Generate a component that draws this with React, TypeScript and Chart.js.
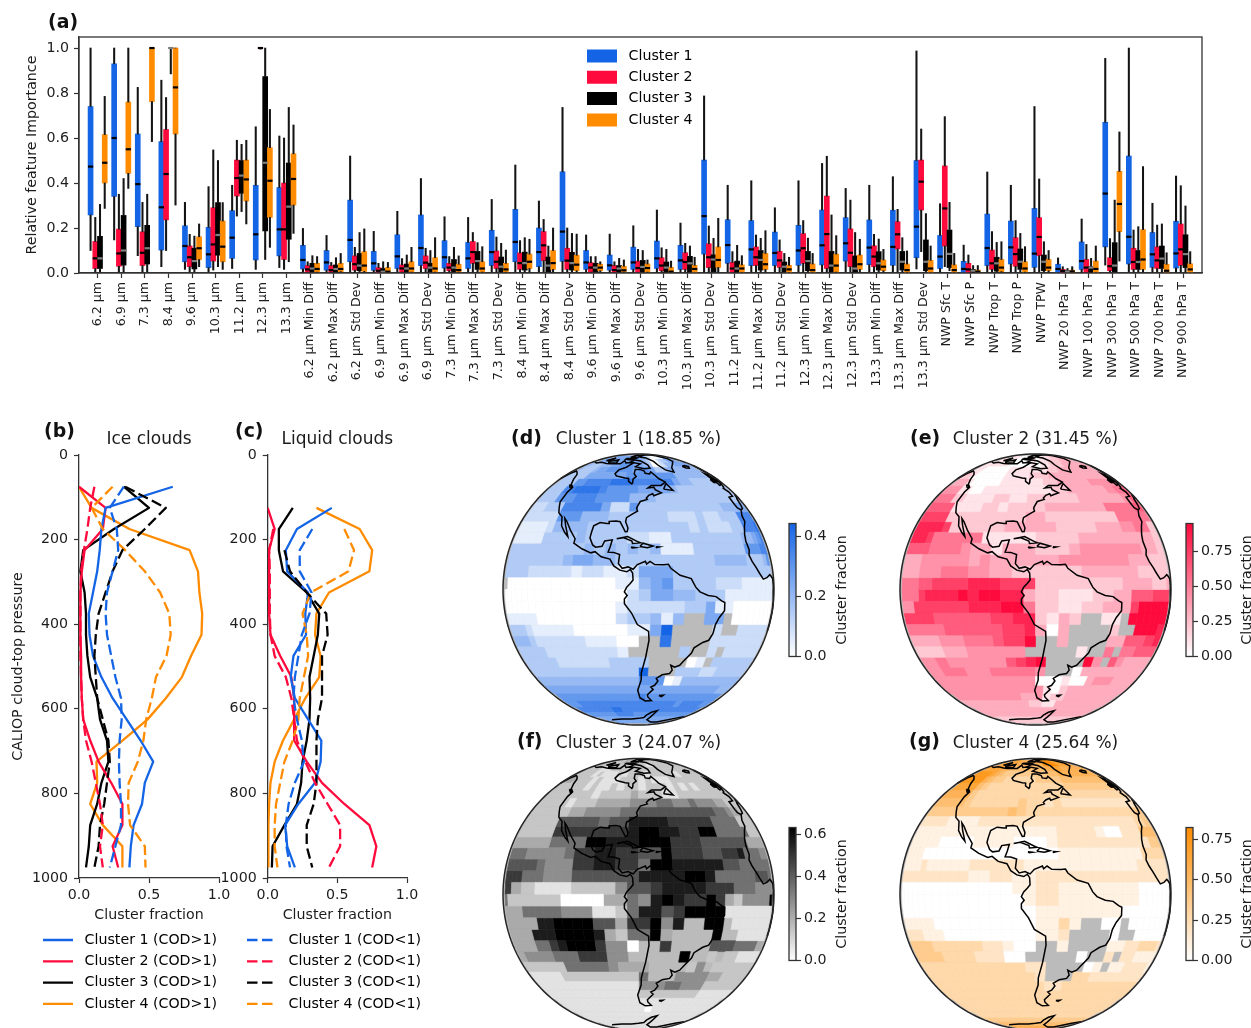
import React, { useEffect, useRef } from "react";
import { Chart, registerables } from "chart.js";

Chart.register(...registerables);
Chart.defaults.font.family = '"DejaVu Sans"';
Chart.defaults.font.size = 14.2;
Chart.defaults.color = "#1c1c1c";

const FEATURES = ["6.2 µm","6.9 µm","7.3 µm","8.4 µm","9.6 µm","10.3 µm","11.2 µm","12.3 µm","13.3 µm",
"6.2 µm Min Diff","6.2 µm Max Diff","6.2 µm Std Dev","6.9 µm Min Diff","6.9 µm Max Diff","6.9 µm Std Dev",
"7.3 µm Min Diff","7.3 µm Max Diff","7.3 µm Std Dev","8.4 µm Min Diff","8.4 µm Max Diff","8.4 µm Std Dev",
"9.6 µm Min Diff","9.6 µm Max Diff","9.6 µm Std Dev","10.3 µm Min Diff","10.3 µm Max Diff","10.3 µm Std Dev",
"11.2 µm Min Diff","11.2 µm Max Diff","11.2 µm Std Dev","12.3 µm Min Diff","12.3 µm Max Diff","12.3 µm Std Dev",
"13.3 µm Min Diff","13.3 µm Max Diff","13.3 µm Std Dev",
"NWP Sfc T","NWP Sfc P","NWP Trop T","NWP Trop P","NWP TPW","NWP 20 hPa T","NWP 100 hPa T","NWP 300 hPa T","NWP 500 hPa T","NWP 700 hPa T","NWP 900 hPa T"];

const CLUSTER_NAMES = ["Cluster 1","Cluster 2","Cluster 3","Cluster 4"];
const COLORS = ["#1464E6","#FF0A3C","#000000","#FF8C00"];

// low whisker, q1, median, q3, high whisker
const STATS_1 = [[.10,.258,.473,.74,1],[.147,.34,.60,.93,1],[.077,.206,.395,.618,.825],[.028,.102,.292,.584,.857],[.016,.05,.12,.21,.314],[.004,.024,.083,.203,.384],[.02,.065,.157,.277,.39],[.016,.058,.172,.39,.65],[.024,.076,.194,.38,.609],[.002,.018,.058,.123,.198],[.002,.013,.047,.10,.167],[.002,.05,.147,.324,.52],[.002,.012,.043,.096,.185],[.002,.02,.074,.17,.274],[.003,.033,.111,.258,.42],[.003,.022,.07,.144,.25],[.003,.02,.065,.136,.247],[.003,.033,.093,.19,.327],[.003,.05,.138,.283,.48],[.003,.028,.093,.20,.32],[.003,.052,.184,.45,.736],[.002,.016,.047,.10,.169],[.002,.013,.034,.08,.173],[.002,.016,.047,.115,.21],[.002,.02,.065,.142,.28],[.002,.016,.056,.123,.222],[.003,.084,.253,.502,.787],[.003,.043,.124,.237,.39],[.003,.033,.105,.233,.41],[.003,.033,.089,.182,.29],[.003,.034,.10,.212,.41],[.003,.036,.123,.28,.487],[.003,.053,.132,.246,.376],[.003,.037,.113,.236,.39],[.003,.034,.116,.279,.428],[.018,.068,.206,.50,.987],[.002,.02,.073,.167,.308],[0,0,.018,.052,.124],[.003,.033,.111,.262,.449],[.003,.04,.114,.231,.39],[.004,.025,.086,.287,.74],[0,.002,.018,.039,.067],[.002,.016,.053,.138,.24],[.035,.116,.353,.67,.954],[.003,.04,.161,.52,1],[.002,.025,.083,.18,.31],[.003,.022,.087,.23,.431]];
const STATS_2 = [[0,.02,.065,.14,.247],[0,.03,.087,.195,.35],[.003,.033,.09,.183,.314],[.10,.236,.44,.638,.78],[.003,.028,.07,.12,.172],[.013,.053,.127,.29,.547],[.253,.342,.422,.502,.59],[.995,1,1,1,1],[.016,.06,.194,.40,.60],[0,.004,.016,.033,.05],[0,.004,.013,.033,.047],[0,.013,.039,.076,.114],[0,.002,.01,.024,.043],[0,.004,.02,.036,.064],[0,.02,.046,.076,.11],[0,.01,.024,.043,.073],[.002,.043,.093,.14,.18],[0,.02,.05,.098,.16],[0,.016,.044,.089,.144],[.003,.055,.123,.184,.238],[.002,.016,.055,.11,.20],[0,.004,.024,.046,.073],[0,.003,.013,.033,.05],[0,.003,.022,.053,.105],[0,.01,.033,.068,.112],[0,.016,.049,.09,.132],[.002,.024,.07,.13,.209],[0,.003,.02,.047,.095],[0,.033,.07,.116,.169],[0,.025,.056,.096,.147],[.002,.043,.11,.175,.233],[.002,.02,.173,.342,.519],[0,.028,.09,.196,.324],[.004,.028,.073,.121,.172],[.002,.107,.172,.228,.283],[.095,.28,.406,.502,.64],[.028,.12,.287,.476,.695],[0,.002,.016,.043,.08],[.002,.016,.043,.102,.184],[.002,.03,.084,.157,.233],[.003,.077,.16,.246,.418],[0,0,.009,.016,.028],[0,.002,.024,.06,.127],[0,.01,.03,.068,.153],[0,.016,.049,.11,.191],[0,.02,.056,.116,.213],[.002,.034,.105,.218,.388]];
const STATS_3 = [[0,.02,.065,.163,.305],[0,.035,.10,.256,.42],[0,.04,.11,.212,.35],[.885,1,1,1,1],[0,.018,.053,.11,.164],[.028,.079,.169,.313,.50],[.273,.354,.433,.50,.572],[.06,.187,.49,.873,1],[.05,.15,.295,.489,.736],[0,.004,.02,.043,.077],[0,.004,.018,.036,.068],[0,.01,.033,.087,.18],[0,.002,.006,.02,.05],[0,.004,.02,.04,.08],[0,.004,.024,.043,.10],[0,.004,.024,.06,.114],[0,.016,.053,.096,.135],[0,.004,.028,.071,.132],[0,.013,.044,.093,.157],[0,.004,.033,.071,.12],[0,.013,.044,.092,.176],[0,.004,.024,.043,.073],[0,.004,.02,.033,.065],[0,.004,.027,.056,.10],[0,.002,.024,.049,.105],[0,.004,.043,.074,.12],[0,.006,.06,.081,.154],[0,.002,.02,.053,.123],[0,.013,.058,.10,.154],[0,.004,.028,.049,.087],[0,.01,.053,.096,.155],[0,.004,.033,.096,.258],[0,.002,.02,.076,.18],[0,.013,.043,.095,.151],[0,.013,.05,.096,.157],[0,.01,.05,.147,.264],[.01,.024,.085,.191,.314],[0,0,.01,.016,.033],[0,.008,.043,.07,.136],[0,.016,.05,.107,.176],[0,.01,.05,.08,.139],[0,0,.006,.01,.02],[0,0,.024,.028,.065],[0,.004,.033,.135,.324],[0,.016,.049,.10,.206],[0,.02,.064,.12,.218],[0,.024,.084,.17,.298]];
const STATS_4 = [[.287,.40,.49,.615,.785],[.376,.443,.55,.76,1],[.584,.762,1,1,1],[.302,.618,.825,1,1],[.028,.06,.11,.161,.218],[.016,.05,.117,.231,.313],[.218,.32,.416,.502,.59],[.114,.247,.41,.557,.727],[.176,.302,.418,.53,.658],[0,.004,.018,.043,.073],[0,.006,.018,.043,.087],[0,.007,.033,.095,.196],[0,.002,.006,.024,.047],[0,.004,.02,.05,.114],[0,.004,.02,.068,.157],[0,.004,.013,.039,.076],[0,.004,.02,.05,.117],[0,.004,.016,.043,.102],[0,.02,.05,.084,.15],[0,.016,.044,.10,.20],[0,.01,.037,.079,.173],[0,.01,.024,.039,.05],[0,.004,.012,.03,.058],[0,.004,.022,.04,.058],[0,0,.006,.025,.053],[0,0,.018,.034,.07],[.003,.025,.058,.116,.243],[0,.003,.02,.036,.077],[0,.016,.039,.087,.188],[0,.002,.016,.034,.07],[0,.002,.013,.04,.087],[0,.004,.033,.084,.166],[0,.016,.039,.08,.15],[0,.01,.028,.058,.105],[0,.002,.013,.04,.098],[0,.002,.02,.056,.12],[0,.002,.013,.036,.087],[0,0,.006,.013,.033],[0,.006,.024,.06,.139],[0,.004,.02,.05,.117],[0,.01,.024,.06,.10],[0,0,.007,.013,.028],[0,.002,.018,.053,.12],[.053,.184,.307,.452,.627],[0,.016,.06,.193,.473],[0,0,.01,.039,.09],[0,0,.016,.041,.095]];
const ALL_STATS = [STATS_1, STATS_2, STATS_3, STATS_4];

const A_Y_TICKS = [0, .2, .4, .6, .8, 1];
const PRESSURE_TICKS = [0, 200, 400, 600, 800, 1000];
const FRACTION_TICKS = [0, .5, 1];
const LEVELS = [75,125,175,225,275,325,375,425,475,525,575,625,675,725,775,825,875,925,975];

const ICE_THICK = [
[.67,.19,.16,.148,.13,.10,.07,.075,.10,.16,.24,.34,.44,.53,.47,.45,.39,.37,.36],
[0,.19,.17,.04,.02,.01,.01,.01,.015,.015,.02,.03,.08,.14,.23,.31,.31,.24,.28],
[.32,.50,.25,.03,.01,.04,.05,.05,.06,.08,.13,.15,.20,.21,.16,.13,.08,.07,.05],
[0,.09,.36,.79,.85,.86,.88,.875,.80,.735,.62,.49,.31,.125,.13,.08,.17,.31,.31]];
const ICE_THIN = [
[.32,.22,.27,.28,.24,.20,.19,.20,.23,.26,.30,.305,.29,.285,.29,.30,.30,.26,.22],
[.11,.08,.06,.035,.015,.01,.01,.01,.01,.015,.02,.03,.05,.09,.12,.15,.17,.15,.17],
[.33,.62,.47,.31,.24,.19,.14,.12,.11,.12,.13,.17,.21,.22,.20,.18,.15,.14,.11],
[.24,.09,.17,.33,.47,.58,.645,.655,.625,.55,.52,.48,.46,.42,.355,.35,.365,.47,.475]];
const LIQ_THICK = [
[null,.46,.21,.13,.14,.29,.27,.275,.185,.165,.195,.29,.385,.38,.34,.22,.125,.14,.195],
[null,0,.05,.01,.01,.01,.01,.02,.09,.17,.19,.19,.19,.28,.39,.55,.73,.78,.75],
[null,.18,.08,.08,.11,.28,.37,.36,.33,.30,.305,.30,.28,.25,.24,.21,.12,.035,.03],
[null,.35,.66,.75,.73,.44,.35,.34,.38,.37,.27,.19,.11,.05,.02,.01,.005,.005,.005]];
const LIQ_THIN = [
[null,null,.32,.23,.23,.315,.30,.245,.22,.195,.185,.21,.245,.26,.195,.15,.13,.135,.16],
[null,null,.04,.01,.015,.015,.015,.02,.05,.13,.17,.19,.21,.27,.34,.43,.52,.52,.44],
[null,null,null,.12,.16,.28,.42,.43,.39,.39,.39,.36,.35,.35,.35,.33,.28,.28,.32],
[null,null,.55,.62,.58,.31,.25,.28,.29,.26,.23,.22,.18,.12,.09,.06,.05,.05,.07]];

// one row per 5 degree latitude band from 90N, one digit per 5 degree longitude from 165W; '-' = no data
const MAP_1 = [
"555555 555555 555555 555555 555555 555555","555555 555555 555555 555533 222555 555555","555555 555555 555555 555220 011555 555555","555555 555555 555565 543002 335555 555555",
"444444 333444 556665 543012 445555 555555","444443 333455 666665 665334 544444 444444","333333 333555 555566 666666 444444 433333","333333 336677 778887 777775 443333 333333",
"333333 377888 876666 555543 333333 333333","333333 366677 766664 443333 333333 333344","222222 333777 775226 333333 333344 455555","222222 222666 444333 333222 322333 777777",
"111111 112444 433333 333332 322233 777888","111111 113333 433332 211333 333334 456777","333333 333333 343434 341113 333336 667777","333333 333334 554433 333333 344443 334666",
"733333 322222 122112 555333 333333 333334","---000 000000 000011 456333 322211 111122","100000 000000 000002 355443 331111 111177","000000 000000 000012 222233 511000 000000",
"111111 110000 000023 3414-- 55-000 000000","333333 211111 000001 159--- -2--22 222222","444444 322222 211100 --8--- -22222 222222","333333 332222 22221- ----3- -2-222 222222",
"333333 333222 222333 3----0 1-3333 333333","333333 333333 333333 9---33 322333 333333","344444 444444 444444 666014 444444 444444","555555 555555 555555 555555 555555 444444",
"666666 666666 666666 766666 666666 666666","666666 677777 777777 777777 677777 666666","777777 777777 788777 777777 777777 777777","666666 666666 677776 666666 666666 666666",
"555555 555555 555555 555555 555555 555555","555555 555555 555555 555555 555555 555555","555555 555555 555555 555555 555555 555555","555555 555555 555555 555555 555555 555555"];
const MAP_2 = [
"111111 111111 111111 111111 111111 111111","111111 111111 111111 111111 111111 222222","111111 111111 000111 111112 222222 222222","111111 111111 000011 011222 233333 333333",
"111111 111111 000001 011222 333333 333333","111111 100000 011111 112233 333333 333333","222222 100000 011112 223333 333333 333333","333333 310000 011111 122333 334444 444444",
"444444 411001 111111 112233 333344 556666","555555 522111 122112 222223 333333 446666","666666 661111 221222 233333 335555 566666","777777 772222 222223 322222 222555 555522",
"888888 887222 222333 332222 333445 552211","888888 755555 511111 222233 333333 332211","666666 655554 331333 222344 444443 332222","333333 444444 343333 334444 444333 222222",
"333333 444555 443322 222233 333322 222222","555555 667777 888777 222222 223333 222333","555555 788889 899883 221112 233666 777777","444447 777777 888995 221122 333799 999998",
"777777 776666 667788 2132-- 11-999 999988","555555 555666 666778 303--- -2--99 998888","333333 334445 556779 --3--- -33666 778888","222222 223334 44444- ----1- -5-556 666666",
"444444 554444 444678 9----9 4-6433 333333","444444 555544 455555 4---03 333333 333333","444444 444444 444444 000100 344433 333333","444444 444444 444444 410233 333333 333333",
"444444 444444 444433 412233 333333 333333","333333 333333 333332 211333 333333 333333","333333 333333 333333 333333 333333 333333","333333 333333 333333 333333 333333 333333",
"222222 222222 222222 222222 222222 222222","222222 222222 222222 222222 222222 222222","222222 222222 222222 222222 222222 222222","222222 222222 222222 222222 222222 222222"];
const MAP_3 = [
"222222 222222 222222 222222 222222 222222","222222 222222 333333 443322 222222 222222","222222 222222 332233 332222 222222 222222","222222 222222 222222 221122 222222 222222",
"222222 222111 222222 222222 222222 222222","222222 222121 112122 212222 212222 222222","333333 222212 111222 121112 222222 222222","222222 222212 112122 122212 121222 222222",
"222222 222222 122223 222112 222222 222222","222222 222122 233334 445544 544433 222222","222222 222233 444455 666666 666554 332222","222222 222666 665668 888777 775555 222222",
"222222 222777 777778 998877 995555 522222","333333 333555 599888 999777 666666 333322","455555 444445 778877 669777 667785 554433","666666 665444 778877 599888 886655 555555",
"877777 555444 666666 888899 855555 666555","887733 221111 222246 678888 777555 444455","955222 222220 000335 489877 973244 444999","443333 555554 441125 886799 991111 111188",
"333333 338899 996637 7948-- 99-111 111111","333333 388899 998325 593--- -9--11 111111","333333 355789 997440 --7--- -66655 553333","333344 444555 77744- ----9- -2-221 111111",
"222222 222255 555433 3----2 4-2222 222222","111111 111222 222222 5---44 443322 222222","111111 111111 111111 444554 442222 222222","111111 111111 111111 222222 221111 111111",
"111111 111111 111111 111111 111111 111111","111111 111111 111111 101111 111111 111111","111111 111111 111111 111111 111111 111111","111111 111111 111111 111111 111111 111111",
"111111 111111 111111 111111 111111 111111","111111 111111 111111 111111 111111 111111","111111 111111 111111 111111 111111 111111","111111 111111 111111 111111 111111 111111"];
const MAP_4 = [
"666666 666666 666666 667777 666666 666666","666666 666666 666666 668899 666666 666666","777777 777777 666666 668999 877777 777777","777777 777777 666655 668999 877777 666666",
"777777 777766 555555 556677 666666 666666","888888 888765 444444 445566 666666 666666","888888 888654 433333 444455 555555 555555","777777 777543 333333 333344 444444 444444",
"666666 666433 333333 333333 333333 333333","555555 555433 333343 323222 222222 222222","444444 444444 444543 333333 333333 344444","222222 221111 222222 222222 222222 334455",
"111111 111111 111111 112222 100222 555555","111111 110000 111100 012222 222222 244444","111111 000000 000000 001111 111113 333333","111111 211111 222221 111111 111122 222222",
"222222 222222 112211 222222 222222 222222","000000 000000 000011 221111 111100 000000","000000 000000 000001 221111 111100 000000","000000 000000 000000 111111 110000 000000",
"111111 110000 000000 1131-- 00-000 000000","222222 111000 000000 112--- -0--00 000000","444444 433333 322100 --1--- -11223 333222","444444 443333 22200- ----0- -2-221 111111",
"333333 333333 333332 2----0 1-1122 222111","333333 333333 333333 2---33 222222 222222","333333 333333 333333 322333 333333 333333","333333 333333 333333 333333 333333 333333",
"333333 333333 333333 333333 333333 333333","333333 333333 333333 333333 333333 333333","333333 333333 333333 333333 333333 333333","444444 444444 444444 444444 444444 444444",
"555555 555555 555555 555555 555555 555555","666666 666666 666666 666666 666666 666666","777777 777777 777777 777777 777777 777777","777777 777777 777777 777777 777777 777777"];

const AMERICAS = [[-168,66],[-166,68.5],[-156,71.3],[-148,70.4],[-141,69.7],[-135,69],[-128,70],[-115,68.5],[-108,68],[-96,68],[-94,72],[-90,69],[-85,69.5],[-81,69],[-85,66],[-87,64.5],[-93,62],[-94.5,58.8],[-92.5,57],[-85,55.3],[-82.3,55],[-82,52.9],[-79.5,51.2],[-79,52],[-79,54.5],[-76.8,56.5],[-78.5,58.7],[-78,62.4],[-73.7,62.4],[-70,61],[-69.5,59],[-66,58.5],[-64.5,60.3],[-62,57.5],[-60,55],[-56,52.5],[-60,50.2],[-66.5,50.2],[-69,48.5],[-65,49],[-64.5,47.5],[-61,45.5],[-64,44.5],[-66,43.8],[-66.5,45],[-69,44],[-70.5,42.5],[-70,41.7],[-74,40.5],[-75.5,38],[-76,36.9],[-75.5,35.3],[-78,33.9],[-81,32],[-81.3,30],[-80,27],[-80.3,25.3],[-81.2,25.2],[-82.8,28],[-84,30],[-86,30.4],[-89.5,30.2],[-89.3,29.2],[-90.5,29.2],[-94,29.6],[-97,28],[-97.5,25],[-97.8,22.4],[-96,19.2],[-94.5,18.2],[-91.5,18.6],[-90.5,21],[-87,21.5],[-87.7,18.5],[-88.5,16],[-86,15.9],[-83.3,15],[-83.7,11],[-82,9],[-79.5,9.6],[-77.3,8.6],[-75.5,10.6],[-72,12],[-71.5,10.8],[-70,12],[-68,10.6],[-64,10.5],[-62,10.7],[-61,9],[-57,6],[-52,4.6],[-50,1],[-48,-1],[-44,-2.5],[-40,-3],[-37,-4.8],[-35.2,-5.5],[-35,-9],[-37.5,-12],[-39,-15],[-39.5,-19],[-41,-22],[-44,-23],[-48,-25.5],[-48.7,-28],[-52,-32],[-53.5,-34],[-56,-35],[-58.3,-34],[-57,-36.5],[-58,-38.3],[-62,-39],[-65,-41],[-63.8,-42.5],[-65.3,-45],[-67.5,-46],[-65.8,-47.5],[-69,-51],[-68.5,-52.5],[-65.5,-55],[-70,-55.3],[-74,-53],[-75.5,-48],[-73.5,-42],[-73.5,-38],[-71.5,-30],[-70.2,-22],[-70.5,-18],[-75.5,-15],[-78,-10],[-81,-6],[-81,-4],[-79.8,-2.5],[-81,-1],[-80,1],[-78.5,2.5],[-77.3,4],[-77.5,7],[-78.5,8.5],[-80,7.5],[-83,8.2],[-85.7,10],[-87.5,13],[-91.5,14],[-94.5,16.2],[-96.5,15.7],[-101,17.5],[-105.5,20],[-105.3,22],[-109,26],[-112.5,30],[-114.7,31.7],[-112.5,28],[-109.5,23],[-112,25],[-115,28],[-117,32.5],[-120.5,34.5],[-122.5,37.5],[-124.3,40.3],[-124,46],[-122.8,49],[-127,51],[-130.5,54.5],[-134,58],[-140,60],[-146,61],[-152,59],[-158,56.5],[-164,54.7]];
const GREENLAND = [[-73,78],[-60,82],[-35,83.5],[-20,81],[-20,75],[-24,71],[-33,68],[-41,64],[-43.5,60],[-50,62],[-54,67],[-55,71],[-62,76],[-73,78]];
const BAFFIN = [[-80,73],[-72,71.5],[-65,67],[-64,63.5],[-70,63],[-78,65],[-73,68],[-85,70],[-80,73]];
const VICTORIA = [[-115,71],[-105,73],[-102,69],[-113,69],[-117,71],[-115,71]];
const ELLESMERE = [[-90,77],[-80,83],[-65,82.5],[-75,78],[-90,77]];
const DEVON = [[-95,75],[-80,75],[-85,73],[-95,74],[-95,75]];
const BANKS = [[-125,72],[-118,76],[-117,73],[-125,72]];
const NEWFOUNDLAND = [[-59,47.8],[-56,51.5],[-53,47],[-59,47.8]];
const VANCOUVER = [[-128.5,50.7],[-125,50],[-123.5,48.5],[-125,48.8],[-128.5,50.7]];
const CUBA = [[-85,22],[-80,23],[-75,20.5],[-74.2,20.2],[-77.7,19.9],[-78,21],[-82,22.5],[-85,22]];
const HISPANIOLA = [[-74.4,18.5],[-73,20],[-68.5,18.7],[-71,18],[-74.4,18.5]];
const JAMAICA = [[-78.3,18.3],[-76.3,18],[-77.8,17.8],[-78.3,18.3]];
const PUERTO_RICO = [[-67.2,18.4],[-65.7,18.3],[-67,18],[-67.2,18.4]];
const FALKLANDS = [[-61,-51.5],[-58,-51.3],[-59,-52.2],[-61,-51.5]];
const AFRICA = [[-5.9,35.8],[-9.5,33],[-10,30],[-13,27.7],[-16,24],[-17,21],[-16.3,17],[-17.5,14.7],[-16,12],[-13.5,9.5],[-11,7],[-7.5,4.4],[-3,5],[2,6.3],[5,5.5],[8.7,4.5],[9.8,1.5],[9,-1],[12,-5],[13.5,-9],[12,-15],[12,-18]];
const EUROPE = [[15.5,40],[12,42],[9,44.5],[6,43],[3,42],[0,38.7],[-2,36.7],[-5.5,36],[-9,37],[-9.5,38.7],[-9,43],[-2,43.5],[-1,46],[-4.7,48.4],[-1.5,49],[1.5,51],[4,52],[8.5,54],[8,57],[10.5,57.7]];
const SCANDINAVIA = [[7,58],[5,60],[5,62],[12,66],[18,69.5],[25,71]];
const BRITAIN = [[-5.5,50],[1,51.3],[1.5,53],[-2,56],[-2,57.7],[-5,58.6],[-5.5,55],[-3,54],[-5,52],[-5.5,50]];
const IRELAND = [[-10,52],[-6,52.2],[-6,55],[-10,54],[-10,52]];
const ICELAND = [[-24,65.5],[-18,66.3],[-14,65],[-18,63.5],[-22.5,63.8],[-24,65.5]];
const ANTARCTICA = [[-120,-74],[-100,-73],[-85,-73],[-75,-72],[-68,-71],[-66,-68],[-62,-65],[-57,-63.5],[-58,-66],[-60,-70],[-62,-74],[-50,-78],[-35,-78],[-15,-72],[5,-70]];
const COASTS = [AMERICAS,GREENLAND,BAFFIN,VICTORIA,ELLESMERE,DEVON,BANKS,NEWFOUNDLAND,VANCOUVER,CUBA,HISPANIOLA,JAMAICA,PUERTO_RICO,FALKLANDS,AFRICA,EUROPE,SCANDINAVIA,BRITAIN,IRELAND,ICELAND,ANTARCTICA];

const LON_CENTER = -75;
const VIEW_LIMIT_DEG = 82;
const rad = (d: number) => (d * Math.PI) / 180;
const project = (lon: number, lat: number) => {
  const dl = lon - LON_CENTER;
  if (Math.abs(dl) > 90) return { x: NaN, y: NaN };
  return { x: Math.cos(rad(lat)) * Math.sin(rad(dl)), y: Math.sin(rad(lat)) };
};
const SOLID = [3000, 1];
const DASH = [10.5, 4.5];

const frame = { id: "frame", afterDatasetsDraw(chart: any) {
  const { ctx, chartArea: a } = chart;
  ctx.save(); ctx.strokeStyle = "#333"; ctx.lineWidth = 1.3;
  ctx.strokeRect(a.left, a.top, a.right - a.left, a.bottom - a.top);
  ctx.restore();
} };
const legendAt = (x: number, y: number) => ({ id: "legendAt", beforeDraw(chart: any) {
  const l = chart.legend; const p = l.options.labels.padding;
  l.left = x - p; l.top = y - p; l.right = chart.width; l.bottom = chart.height;
  l.width = l.right - l.left; l.height = l.bottom - l.top;
} });
const tickList = (list: number[]) => (s: any) => { s.ticks = list.map((value) => ({ value })); };
const tickLine = { display: true, drawOnChartArea: false, drawTicks: true, tickLength: 5, tickColor: "#333", tickWidth: 1.2, offset: false };
const spine = { display: true, color: "#333", width: 1.3 };

function boxConfig() {
  const offsets = [-0.3, -0.1, 0.1, 0.3];
  const datasets: any[] = [];
  ALL_STATS.forEach((stats, k) => datasets.push({
    type: "bar", label: CLUSTER_NAMES[k], grouped: false, barThickness: 5, backgroundColor: COLORS[k], order: 40 - k,
    data: stats.map((s, i) => ({ x: i + offsets[k], y: [s[1], s[3]] })),
  }));
  ALL_STATS.forEach((stats, k) => datasets.push({
    type: "bar", grouped: false, barThickness: 1.4, backgroundColor: "#141414", order: 20 - k,
    data: stats.flatMap((s, i) => [{ x: i + offsets[k], y: [s[0], s[1]] }, { x: i + offsets[k], y: [s[3], s[4]] }]),
  }));
  ALL_STATS.forEach((stats, k) => datasets.push({
    type: "scatter", showLine: false, pointStyle: "line", pointRadius: 2.6, pointBorderWidth: 2.2, order: 10 - k,
    pointBorderColor: k === 2 ? "#808080" : "#000", clip: false,
    data: stats.map((s, i) => ({ x: i + offsets[k], y: s[2] })),
  }));
  return {
    type: "bar", data: { datasets },
    plugins: [frame, legendAt(587, 48.9)],
    options: {
      responsive: false, animation: false, events: [], devicePixelRatio: 1,
      layout: { padding: { top: 37, right: 49 } },
      plugins: {
        tooltip: { enabled: false }, title: { display: false },
        legend: { position: "chartArea", align: "start",
          labels: { boxWidth: 30, boxHeight: 13, padding: 7.1, font: { size: 14.2 },
            generateLabels: () => CLUSTER_NAMES.map((n, k) => ({ text: " " + n, fillStyle: COLORS[k], strokeStyle: COLORS[k], lineWidth: 0, hidden: false, datasetIndex: k })) } },
      },
      scales: {
        x: { type: "linear", min: -0.79, max: 46.8, offset: false,
          afterBuildTicks: tickList(FEATURES.map((_, i) => i)),
          afterFit: (s: any) => { s.height = 127; },
          grid: tickLine, border: spine,
          ticks: { autoSkip: false, minRotation: 90, maxRotation: 90, padding: 4, font: { size: 12.6 }, callback: (v: number) => FEATURES[Math.round(v)] } },
        y: { min: 0, max: 1.049,
          afterBuildTicks: tickList(A_Y_TICKS), afterFit: (s: any) => { s.width = 79; },
          grid: tickLine, border: spine,
          title: { display: true, text: "Relative feature Importance", padding: { top: 23.5, bottom: 0 } },
          ticks: { padding: 5, callback: (v: number) => v.toFixed(1) } },
      },
    },
  };
}

function profileConfig(title: string, thick: any[], thin: any[], showYTitle: boolean, yWidth: number, paddingRight: number, legendX: number, legendSuffix: string, legendDash: number[]) {
  const series = (vals: any[], dash: number[], label: string, k: number) => ({
    type: "line", label, data: LEVELS.map((y, i) => ({ x: vals[i], y })).filter((p) => p.x !== null),
    borderColor: COLORS[k], borderWidth: 2.3, borderDash: dash, pointRadius: 0, tension: 0, fill: false, borderJoinStyle: "round",
  });
  const datasets = [
    ...thin.map((v, k) => series(v, DASH, CLUSTER_NAMES[k] + " (COD<1)", k)),
    ...thick.map((v, k) => series(v, SOLID, CLUSTER_NAMES[k] + " (COD>1)", k)),
  ];
  return {
    type: "line", data: { datasets },
    plugins: [legendAt(legendX, 507.9)],
    options: {
      responsive: false, animation: false, events: [], devicePixelRatio: 1,
      layout: { padding: { right: paddingRight } },
      plugins: {
        tooltip: { enabled: false },
        title: { display: true, text: title, fullSize: false, font: { size: 17, weight: "normal" }, padding: { top: 4.3, bottom: 5.3 } },
        legend: { position: "chartArea", align: "start",
          labels: { usePointStyle: true, pointStyleWidth: 30, boxHeight: 13, padding: 7.1, font: { size: 14.2 },
            generateLabels: () => CLUSTER_NAMES.map((n, k) => ({ text: " " + n + " " + legendSuffix, fillStyle: COLORS[k], strokeStyle: COLORS[k], lineWidth: 2.3, lineDash: legendDash, pointStyle: "line", hidden: false, datasetIndex: k })) } },
      },
      scales: {
        x: { type: "linear", min: 0, max: 1,
          afterBuildTicks: tickList(FRACTION_TICKS), afterFit: (s: any) => { s.height = 142; },
          grid: tickLine, border: spine,
          title: { display: true, text: "Cluster fraction", padding: { top: 0, bottom: 96.5 } },
          ticks: { padding: 4, maxRotation: 0, callback: (v: number) => v.toFixed(1) } },
        y: { type: "linear", reverse: true, min: 0, max: 1000,
          afterBuildTicks: tickList(PRESSURE_TICKS), afterFit: (s: any) => { s.width = yWidth; },
          grid: tickLine, border: spine,
          title: { display: showYTitle, text: "CALIOP cloud-top pressure", padding: { top: 9.8, bottom: 0 } },
          ticks: { padding: 6, callback: (v: number) => String(v) } },
      },
    },
  };
}

const mix = (hex: string, t: number) => {
  const n = parseInt(hex.slice(1), 16);
  const c = [n >> 16, (n >> 8) & 255, n & 255].map((v) => Math.round(255 + (v - 255) * t));
  return `rgb(${c[0]},${c[1]},${c[2]})`;
};

function mapConfig(title: string, rows: string[], color: string, titleTop: number, titleBottom: number) {
  const byLevel: any[][] = Array.from({ length: 10 }, () => []);
  rows.forEach((row, r) => {
    const cells = row.replace(/\s/g, "");
    const north = 90 - 5 * r;
    for (let j = 0; j < cells.length; j++) {
      const ch = cells[j];
      if (ch === "-") continue;
      const west = -165 + 5 * j;
      const dist = Math.acos(Math.cos(rad(north - 2.5)) * Math.cos(rad(west + 2.5 - LON_CENTER))) * 180 / Math.PI;
      if (dist > VIEW_LIMIT_DEG) continue;
      const corners = [[west, north], [west + 5, north], [west + 5, north - 5], [west, north - 5], [west, north]];
      byLevel[Number(ch)].push(...corners.map(([lon, lat]) => project(lon, lat)), { x: NaN, y: NaN });
    }
  });
  const circle = Array.from({ length: 181 }, (_, i) => ({ x: Math.cos(rad(i * 2)), y: Math.sin(rad(i * 2)) }));
  const base = { type: "line", pointRadius: 0, tension: 0, spanGaps: false, borderDash: SOLID };
  const datasets: any[] = [
    { ...base, data: circle, fill: false, borderColor: "#262626", borderWidth: 1.5, order: 0, clip: false },
    ...COASTS.map((poly) => ({ ...base, data: poly.map(([lon, lat]) => project(lon, lat)), fill: false, borderColor: "#000", borderWidth: 1.5, order: 1 })),
    ...byLevel.map((pts, d) => ({ ...base, data: pts, fill: "shape", backgroundColor: mix(color, d / 9), borderColor: mix(color, d / 9), borderWidth: 0.6, order: 5 })),
    { ...base, data: circle, fill: "shape", backgroundColor: "#BBBBBB", borderWidth: 0, order: 9 },
  ];
  return {
    type: "line", data: { datasets },
    options: {
      responsive: false, animation: false, events: [], devicePixelRatio: 1,
      layout: { padding: { left: 3, right: 3, bottom: 3 } },
      plugins: {
        tooltip: { enabled: false }, legend: { display: false },
        title: { display: true, text: title, fullSize: false, font: { size: 17, weight: "normal" }, padding: { top: titleTop, bottom: titleBottom } },
      },
      scales: {
        x: { type: "linear", min: -1, max: 1, display: false },
        y: { type: "linear", min: -1, max: 1, display: false },
      },
    },
  };
}

function colorbarConfig(vmax: number, ticks: number[], decimals: number, color: string) {
  return {
    type: "bar",
    data: { labels: ["Cluster fraction"], datasets: [{
      data: [[0, vmax]], barPercentage: 1, categoryPercentage: 1, inflateAmount: 0,
      backgroundColor: (c: any) => {
        const a = c.chart.chartArea;
        if (!a) return color;
        const g = c.chart.ctx.createLinearGradient(0, a.bottom, 0, a.top);
        g.addColorStop(0, "#ffffff"); g.addColorStop(1, color);
        return g;
      },
    }] },
    plugins: [frame],
    options: {
      responsive: false, animation: false, events: [], devicePixelRatio: 1,
      layout: { padding: { left: 4, top: 10, bottom: 10, right: 0 } },
      plugins: { tooltip: { enabled: false }, legend: { display: false }, title: { display: false } },
      scales: {
        x: { display: false },
        y: { position: "right", min: 0, max: vmax,
          afterBuildTicks: tickList(ticks), afterFit: (s: any) => { s.width = 49; },
          grid: tickLine, border: { display: false },
          ticks: { padding: 3, callback: (v: number) => v.toFixed(decimals) } },
      },
    },
  };
}

function Fig({ config, left, top, width, height }: any) {
  const ref = useRef<HTMLCanvasElement>(null);
  useEffect(() => {
    const chart = new Chart(ref.current as any, config());
    return () => chart.destroy();
  }, []);
  return <canvas ref={ref} width={width} height={height} style={{ position: "absolute", left, top, width, height }} />;
}

const Letter = ({ t, x, y }: any) => (
  <div style={{ position: "absolute", left: x, top: y, transform: "translateY(-50%)", font: 'bold 18.9px "DejaVu Sans"', color: "#111", whiteSpace: "nowrap" }}>{t}</div>
);
const BarTitle = ({ x, y }: any) => (
  <div style={{ position: "absolute", left: x, top: y, transform: "translate(-50%,-50%) rotate(-90deg)", font: '14.2px "DejaVu Sans"', color: "#1c1c1c", whiteSpace: "nowrap" }}>Cluster fraction</div>
);

const COLORBAR_TICKS_1 = [0, .2, .4];
const COLORBAR_TICKS_2 = [0, .25, .5, .75];
const COLORBAR_TICKS_3 = [0, .2, .4, .6];
const COLORBAR_TICKS_4 = [0, .25, .5, .75];

export default function App() {
  return (
    <div style={{ position: "fixed", left: 0, top: 0, width: 1251, height: 1028, overflow: "hidden", background: "#fff", filter: "blur(0.35px)" }}>
      <Fig config={boxConfig} left={0} top={0} width={1251} height={400} />
      <Fig config={() => profileConfig("Ice clouds", ICE_THICK, ICE_THIN, true, 79, 21, 43, "(COD>1)", [])} left={0} top={425} width={240} height={595} />
      <Fig config={() => profileConfig("Liquid clouds", LIQ_THICK, LIQ_THIN, false, 47.7, 23, 27, "(COD<1)", DASH)} left={220} top={425} width={210} height={595} />
      <Fig config={() => mapConfig("Cluster 1 (18.85 %)", MAP_1, COLORS[0], 4.8, 3.8)} left={500} top={425} width={277} height={303} />
      <Fig config={() => mapConfig("Cluster 2 (31.45 %)", MAP_2, COLORS[1], 4.8, 3.8)} left={897} top={425} width={277} height={303} />
      <Fig config={() => mapConfig("Cluster 3 (24.07 %)", MAP_3, COLORS[2], 3.8, 4.3)} left={500} top={730} width={277} height={303} />
      <Fig config={() => mapConfig("Cluster 4 (25.64 %)", MAP_4, COLORS[3], 3.8, 4.3)} left={897} top={730} width={277} height={303} />
      <Fig config={() => colorbarConfig(.442, COLORBAR_TICKS_1, 1, COLORS[0])} left={785} top={512} width={60} height={156} />
      <Fig config={() => colorbarConfig(.952, COLORBAR_TICKS_2, 2, COLORS[1])} left={1182} top={512} width={60} height={156} />
      <Fig config={() => colorbarConfig(.633, COLORBAR_TICKS_3, 1, COLORS[2])} left={785} top={816} width={60} height={156} />
      <Fig config={() => colorbarConfig(.823, COLORBAR_TICKS_4, 2, COLORS[3])} left={1182} top={816} width={60} height={156} />
      <BarTitle x={841} y={590} /><BarTitle x={1246} y={590} /><BarTitle x={841} y={894} /><BarTitle x={1246} y={894} />
      <Letter t="(a)" x={48} y={21} /><Letter t="(b)" x={44} y={430} /><Letter t="(c)" x={235} y={430} />
      <Letter t="(d)" x={511} y={437} /><Letter t="(e)" x={910} y={437} /><Letter t="(f)" x={517} y={740} /><Letter t="(g)" x={909} y={740} />
    </div>
  );
}
